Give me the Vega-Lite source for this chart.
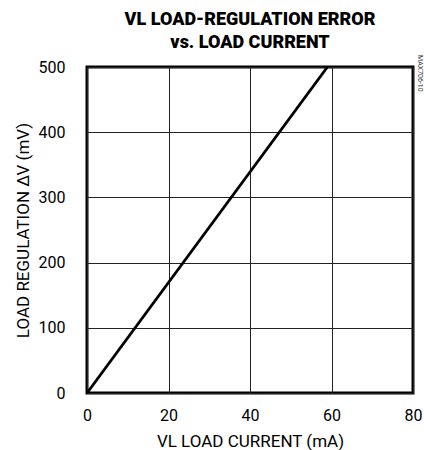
{
  "$schema": "https://vega.github.io/schema/vega-lite/v6.json",
  "autosize": "none",
  "width": 326,
  "height": 326,
  "padding": {"left": 87, "top": 67, "right": 11, "bottom": 57},
  "background": "white",
  "config": {
    "view": {"stroke": "black", "strokeWidth": 3},
    "font": "Roboto"
  },
  "title": {
    "text": ["VL LOAD-REGULATION ERROR", "vs. LOAD CURRENT"],
    "font": "Roboto",
    "fontWeight": 900,
    "fontSize": 18,
    "lineHeight": 23,
    "color": "black",
    "anchor": "middle",
    "offset": 3
  },
  "data": {
    "values": [
      {"current": 0, "error": 0},
      {"current": 59, "error": 500}
    ]
  },
  "layer": [
    {
      "mark": {"type": "line", "color": "black", "strokeWidth": 2.8, "clip": true},
      "encoding": {
        "x": {
          "field": "current",
          "type": "quantitative",
          "scale": {"domain": [0, 80], "nice": false},
          "axis": {
            "title": "VL LOAD CURRENT (mA)",
            "values": [0, 20, 40, 60, 80],
            "grid": true,
            "gridColor": "#222",
            "gridWidth": 1,
            "gridOpacity": 1,
            "domain": false,
            "ticks": false,
            "labelPadding": 14,
            "labelFontSize": 16,
            "labelColor": "black",
            "labelFont": "Roboto",
            "labelFlush": false,
            "titleFont": "Roboto",
            "titleFontSize": 17,
            "titleFontWeight": "normal",
            "titleColor": "black",
            "titlePadding": 10
          }
        },
        "y": {
          "field": "error",
          "type": "quantitative",
          "scale": {"domain": [0, 500], "nice": false},
          "axis": {
            "title": "LOAD REGULATION ∆V (mV)",
            "values": [0, 100, 200, 300, 400, 500],
            "grid": true,
            "gridColor": "#222",
            "gridWidth": 1,
            "gridOpacity": 1,
            "domain": false,
            "ticks": false,
            "labelPadding": 22,
            "labelFontSize": 16,
            "labelColor": "black",
            "labelFont": "Roboto",
            "labelFlush": false,
            "titleFont": "Roboto",
            "titleFontSize": 17,
            "titleFontWeight": "normal",
            "titleColor": "black",
            "titleX": -55,
            "titleY": 163
          }
        }
      }
    },
    {
      "data": {"values": [{"current": 80, "error": 500, "label": "MAX706-10"}]},
      "mark": {
        "type": "text",
        "angle": 90,
        "align": "left",
        "baseline": "middle",
        "font": "Roboto",
        "fontSize": 7,
        "color": "#333",
        "dx": -12,
        "dy": -7
      },
      "encoding": {
        "x": {"field": "current", "type": "quantitative"},
        "y": {"field": "error", "type": "quantitative"},
        "text": {"field": "label"}
      }
    }
  ]
}
